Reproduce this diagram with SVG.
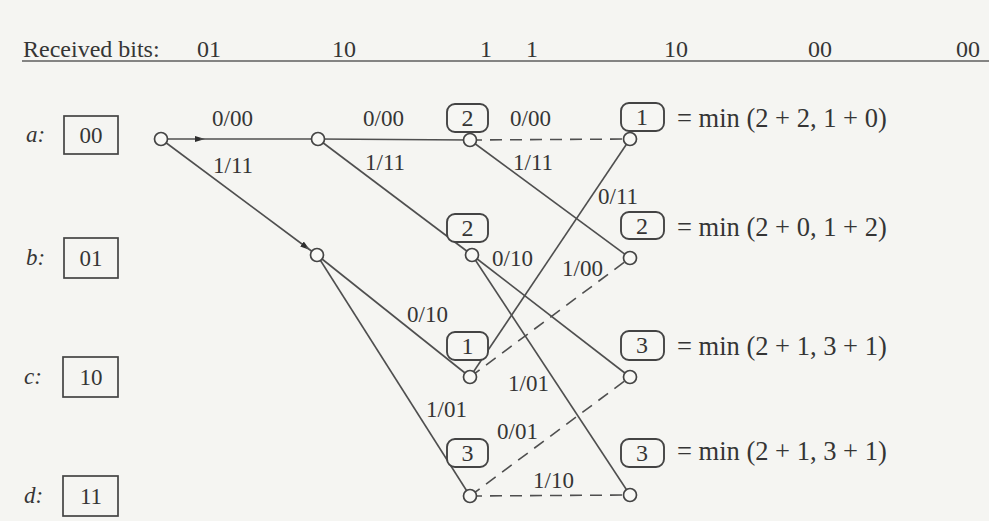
<svg xmlns="http://www.w3.org/2000/svg" width="989" height="521" viewBox="0 0 989 521">
<defs>
<style>
text{font-family:"Liberation Serif","Times New Roman",serif;fill:#353535}
.hd{font-size:24px}
.lb{font-size:23px}
.st{font-size:23px;text-anchor:middle}
.it{font-size:23px;font-style:italic}
.mt{font-size:24px;text-anchor:middle}
.eq{font-size:26.5px}
.box{fill:none;stroke:#444;stroke-width:1.7}
.mbox{fill:#f6f6f3;stroke:#444;stroke-width:1.9}
.e{stroke:#4f4f4f;stroke-width:1.6;fill:none}
.d{stroke:#4f4f4f;stroke-width:1.6;fill:none;stroke-dasharray:12 8}
.n{fill:#f8f8f5;stroke:#444;stroke-width:1.7}
</style>
<marker id="ah" viewBox="0 0 10 10" refX="5" refY="5" markerWidth="10" markerHeight="10" orient="auto" markerUnits="userSpaceOnUse">
<path d="M0,2 L10,5 L0,8 Z" fill="#2e2e2e"/>
</marker>
</defs>
<rect width="989" height="521" fill="#f5f5f2"/>
<g id="header">
<text class="hd" x="23" y="57">Received bits:</text>
<text class="hd" x="197" y="57">01</text>
<text class="hd" x="332" y="57">10</text>
<text class="hd" x="480" y="57">1</text>
<text class="hd" x="526" y="57">1</text>
<text class="hd" x="664" y="57">10</text>
<text class="hd" x="808" y="57">00</text>
<text class="hd" x="956" y="57">00</text>
<line x1="22" y1="61" x2="989" y2="61" stroke="#5e5e5e" stroke-width="1.7"/>
</g>
<g id="state-a"><text class="it" x="26" y="142">a:</text><rect class="box" x="64" y="116" width="54" height="38"/><text class="st" x="91" y="143">00</text></g>
<g id="state-b"><text class="it" x="26" y="265">b:</text><rect class="box" x="64" y="238" width="54" height="40"/><text class="st" x="91" y="266">01</text></g>
<g id="state-c"><text class="it" x="24" y="384">c:</text><rect class="box" x="63" y="357" width="55" height="40"/><text class="st" x="91" y="385">10</text></g>
<g id="state-d"><text class="it" x="24" y="503">d:</text><rect class="box" x="63" y="476" width="55" height="40"/><text class="st" x="91" y="504">11</text></g>
<g id="connectors">
<line class="e" x1="161" y1="139" x2="200" y2="139" marker-end="url(#ah)"/>
<line class="e" x1="200" y1="139" x2="318" y2="139"/>
<line class="e" x1="161" y1="139" x2="306" y2="247" marker-end="url(#ah)"/>
<line class="e" x1="306" y1="247" x2="317" y2="255"/>
<line class="e" x1="318" y1="139" x2="470" y2="140"/>
<line class="e" x1="318" y1="139" x2="472" y2="255"/>
<line class="d" x1="470" y1="140" x2="630" y2="139"/>
<line class="e" x1="470" y1="140" x2="630" y2="258"/>
<line class="e" x1="317" y1="255" x2="470" y2="377"/>
<line class="e" x1="317" y1="255" x2="470" y2="496"/>
<line class="e" x1="472" y1="255" x2="630" y2="377"/>
<line class="e" x1="472" y1="255" x2="630" y2="495"/>
<line class="e" x1="470" y1="377" x2="630" y2="139"/>
<line class="d" x1="470" y1="377" x2="630" y2="258"/>
<line class="d" x1="470" y1="496" x2="630" y2="377"/>
<line class="d" x1="470" y1="496" x2="630" y2="495"/>
<text class="lb" x="212" y="126">0/00</text>
<text class="lb" x="213" y="173">1/11</text>
<text class="lb" x="363" y="126">0/00</text>
<text class="lb" x="365" y="170">1/11</text>
<text class="lb" x="510" y="126">0/00</text>
<text class="lb" x="513" y="170">1/11</text>
<text class="lb" x="598" y="204">0/11</text>
<text class="lb" x="492" y="266">0/10</text>
<text class="lb" x="562" y="276">1/00</text>
<text class="lb" x="407" y="322">0/10</text>
<text class="lb" x="508" y="391">1/01</text>
<text class="lb" x="426" y="417">1/01</text>
<text class="lb" x="497" y="439">0/01</text>
<text class="lb" x="533" y="488">1/10</text>
</g>
<g id="n-a0"><circle class="n" cx="161" cy="139" r="6.5"/></g>
<g id="n-a1"><circle class="n" cx="318" cy="139" r="6.5"/></g>
<g id="n-b1"><circle class="n" cx="317" cy="255" r="6.5"/></g>
<g id="n-a2"><rect class="mbox" x="447" y="104" width="41" height="28" rx="8"/><text class="mt" x="467.5" y="126">2</text><circle class="n" cx="470" cy="140" r="6.5"/></g>
<g id="n-b2"><rect class="mbox" x="447" y="214" width="41" height="28" rx="8"/><text class="mt" x="467.5" y="236">2</text><circle class="n" cx="472" cy="255" r="6.5"/></g>
<g id="n-c2"><rect class="mbox" x="447" y="332" width="41" height="28" rx="8"/><text class="mt" x="467.5" y="354">1</text><circle class="n" cx="470" cy="377" r="6.5"/></g>
<g id="n-d2"><rect class="mbox" x="447" y="439" width="41" height="28" rx="8"/><text class="mt" x="467.5" y="461">3</text><circle class="n" cx="470" cy="496" r="6.5"/></g>
<g id="n-a3"><rect class="mbox" x="621" y="103" width="43" height="28" rx="8"/><text class="mt" x="642" y="125">1</text><circle class="n" cx="630" cy="139" r="6.5"/><text class="eq" x="677" y="127">= min (2 + 2, 1 + 0)</text></g>
<g id="n-b3"><rect class="mbox" x="621" y="212" width="43" height="27" rx="8"/><text class="mt" x="642" y="234">2</text><circle class="n" cx="630" cy="258" r="6.5"/><text class="eq" x="677" y="236">= min (2 + 0, 1 + 2)</text></g>
<g id="n-c3"><rect class="mbox" x="621" y="331" width="43" height="29" rx="8"/><text class="mt" x="642" y="353">3</text><circle class="n" cx="630" cy="377" r="6.5"/><text class="eq" x="677" y="355">= min (2 + 1, 3 + 1)</text></g>
<g id="n-d3"><rect class="mbox" x="621" y="439" width="43" height="28" rx="8"/><text class="mt" x="642" y="461">3</text><circle class="n" cx="630" cy="495" r="6.5"/><text class="eq" x="677" y="460">= min (2 + 1, 3 + 1)</text></g>
</svg>
